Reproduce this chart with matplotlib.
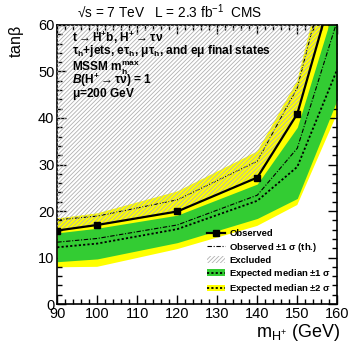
import matplotlib
matplotlib.use("Agg")
import matplotlib.pyplot as plt
from matplotlib.patches import Patch
from matplotlib.lines import Line2D
from matplotlib.ticker import MultipleLocator

plt.rcParams['font.family'] = ['Liberation Sans', 'DejaVu Sans']
plt.rcParams['mathtext.fontset'] = 'custom'
plt.rcParams['mathtext.rm'] = 'Liberation Sans'
plt.rcParams['mathtext.it'] = 'Liberation Sans:italic:bold'
plt.rcParams['mathtext.bf'] = 'Liberation Sans:bold'
plt.rcParams['mathtext.default'] = 'regular'
plt.rcParams['hatch.linewidth'] = 0.6

# charged Higgs mass points (GeV)
mass = [90, 100, 120, 140, 150, 160]

# tan beta limits
observed = [15.8, 17.0, 19.9, 27.2, 40.9, 71.0]
obs_th_up = [18.1, 18.9, 22.4, 30.7, 46.5, 80.0]
obs_th_down = [13.3, 14.1, 17.0, 23.4, 33.5, 61.0]
expected = [12.2, 13.0, 16.1, 22.2, 29.5, 50.5]
exp_1s_up = [15.3, 16.3, 19.1, 25.8, 38.0, 66.0]
exp_1s_down = [9.1, 9.7, 13.2, 18.4, 22.7, 44.0]
exp_2s_up = [18.4, 19.5, 24.2, 32.8, 48.0, 83.0]
exp_2s_down = [7.9, 8.0, 11.8, 16.8, 21.3, 41.0]

green = '#33cc33'
yellow = '#ffff00'
hatch_col = '#b0b0b0'
dashdot = (0, (4, 1.5, 1, 1.5))
dotted = (0, (1.2, 1.2))

fig = plt.figure(figsize=(3.51, 3.42), dpi=100)
ax = fig.add_axes([0.163, 0.111, 0.798, 0.816])

ax.fill_between(mass, exp_2s_down, exp_2s_up, color=yellow, lw=0, zorder=1)
ax.fill_between(mass, exp_1s_down, exp_1s_up, color=green, lw=0, zorder=2)
ax.plot(mass, expected, color='black', ls=dotted, lw=1.3, zorder=3)
ax.plot(mass, obs_th_up, color='black', ls=dashdot, lw=0.8, zorder=3)
ax.plot(mass, obs_th_down, color='black', ls=dashdot, lw=0.8, zorder=3)
ax.fill_between(mass, observed, [100] * len(mass), facecolor='none',
                edgecolor=hatch_col, hatch='////////', lw=0, zorder=4)
ax.plot(mass, observed, color='black', lw=1.6, marker='s', ms=4.5, zorder=5)

ax.set_xlim(90, 160)
ax.set_ylim(0, 60)
ax.xaxis.set_major_locator(MultipleLocator(10))
ax.xaxis.set_minor_locator(MultipleLocator(2))
ax.yaxis.set_major_locator(MultipleLocator(10))
ax.yaxis.set_minor_locator(MultipleLocator(2))
ax.tick_params(which='both', direction='in', top=True, right=True,
               labelsize=10.5, width=1.0)
ax.tick_params(which='major', length=6.5, pad=2)
ax.tick_params(which='minor', length=3.3)
for s in ax.spines.values():
    s.set_linewidth(1.2)

# info text
x_txt = 93.6
lines = [
    (56.4, r"t$\rightarrow$H$^{+}$b, H$^{+}\rightarrow\tau\nu$"),
    (53.8, r"$\tau_{h}$+jets, e$\tau_{h}$, $\mu\tau_{h}$, and e$\mu$ final states"),
    (50.0, r"MSSM m$_{h}^{max}$"),
    (47.4, r"$\mathit{B}$(H$^{+}\rightarrow\tau\nu$) = 1"),
    (44.6, r"$\mu$=200 GeV"),
]
for y, t in lines:
    ax.text(x_txt, y, t, fontsize=8.6, fontweight='bold', va='baseline', zorder=6)

handles = [
    Line2D([], [], color='black', lw=1.6, marker='s', ms=4.5),
    Line2D([], [], color='black', ls=dashdot, lw=0.8),
    Patch(facecolor='white', edgecolor=hatch_col, hatch='////////', lw=0),
    (Patch(facecolor=green, lw=0), Line2D([], [], color='black', ls=dotted, lw=1.3)),
    (Patch(facecolor=yellow, lw=0), Line2D([], [], color='black', ls=dotted, lw=1.3)),
]
labels = ['Observed', r'Observed $\pm$1 $\sigma$ (th.)', 'Excluded',
          r'Expected median $\pm$1 $\sigma$', r'Expected median $\pm$2 $\sigma$']
leg = ax.legend(handles, labels, loc='upper left', bbox_to_anchor=(0.535, 0.268),
                frameon=False, prop={'size': 6.8, 'weight': 'bold'},
                handlelength=1.9, handletextpad=0.45, labelspacing=0.24,
                borderpad=0, borderaxespad=0)

fig.text(0.482, 1 - 18 / 342, "√s = 7 TeV   L = 2.3 fb$^{-1}$  CMS",
         fontsize=9.8, ha='center', va='baseline')
fig.text(16 / 351, 1 - 42 / 342, r"tan$\beta$", fontsize=11.5, rotation=90,
         ha='center', va='center')
fig.text(340 / 351, 1 - 337 / 342, r"m$_{H^{+}}$ (GeV)", fontsize=13,
         ha='right', va='baseline')

fig.savefig("out.png", dpi=100)
